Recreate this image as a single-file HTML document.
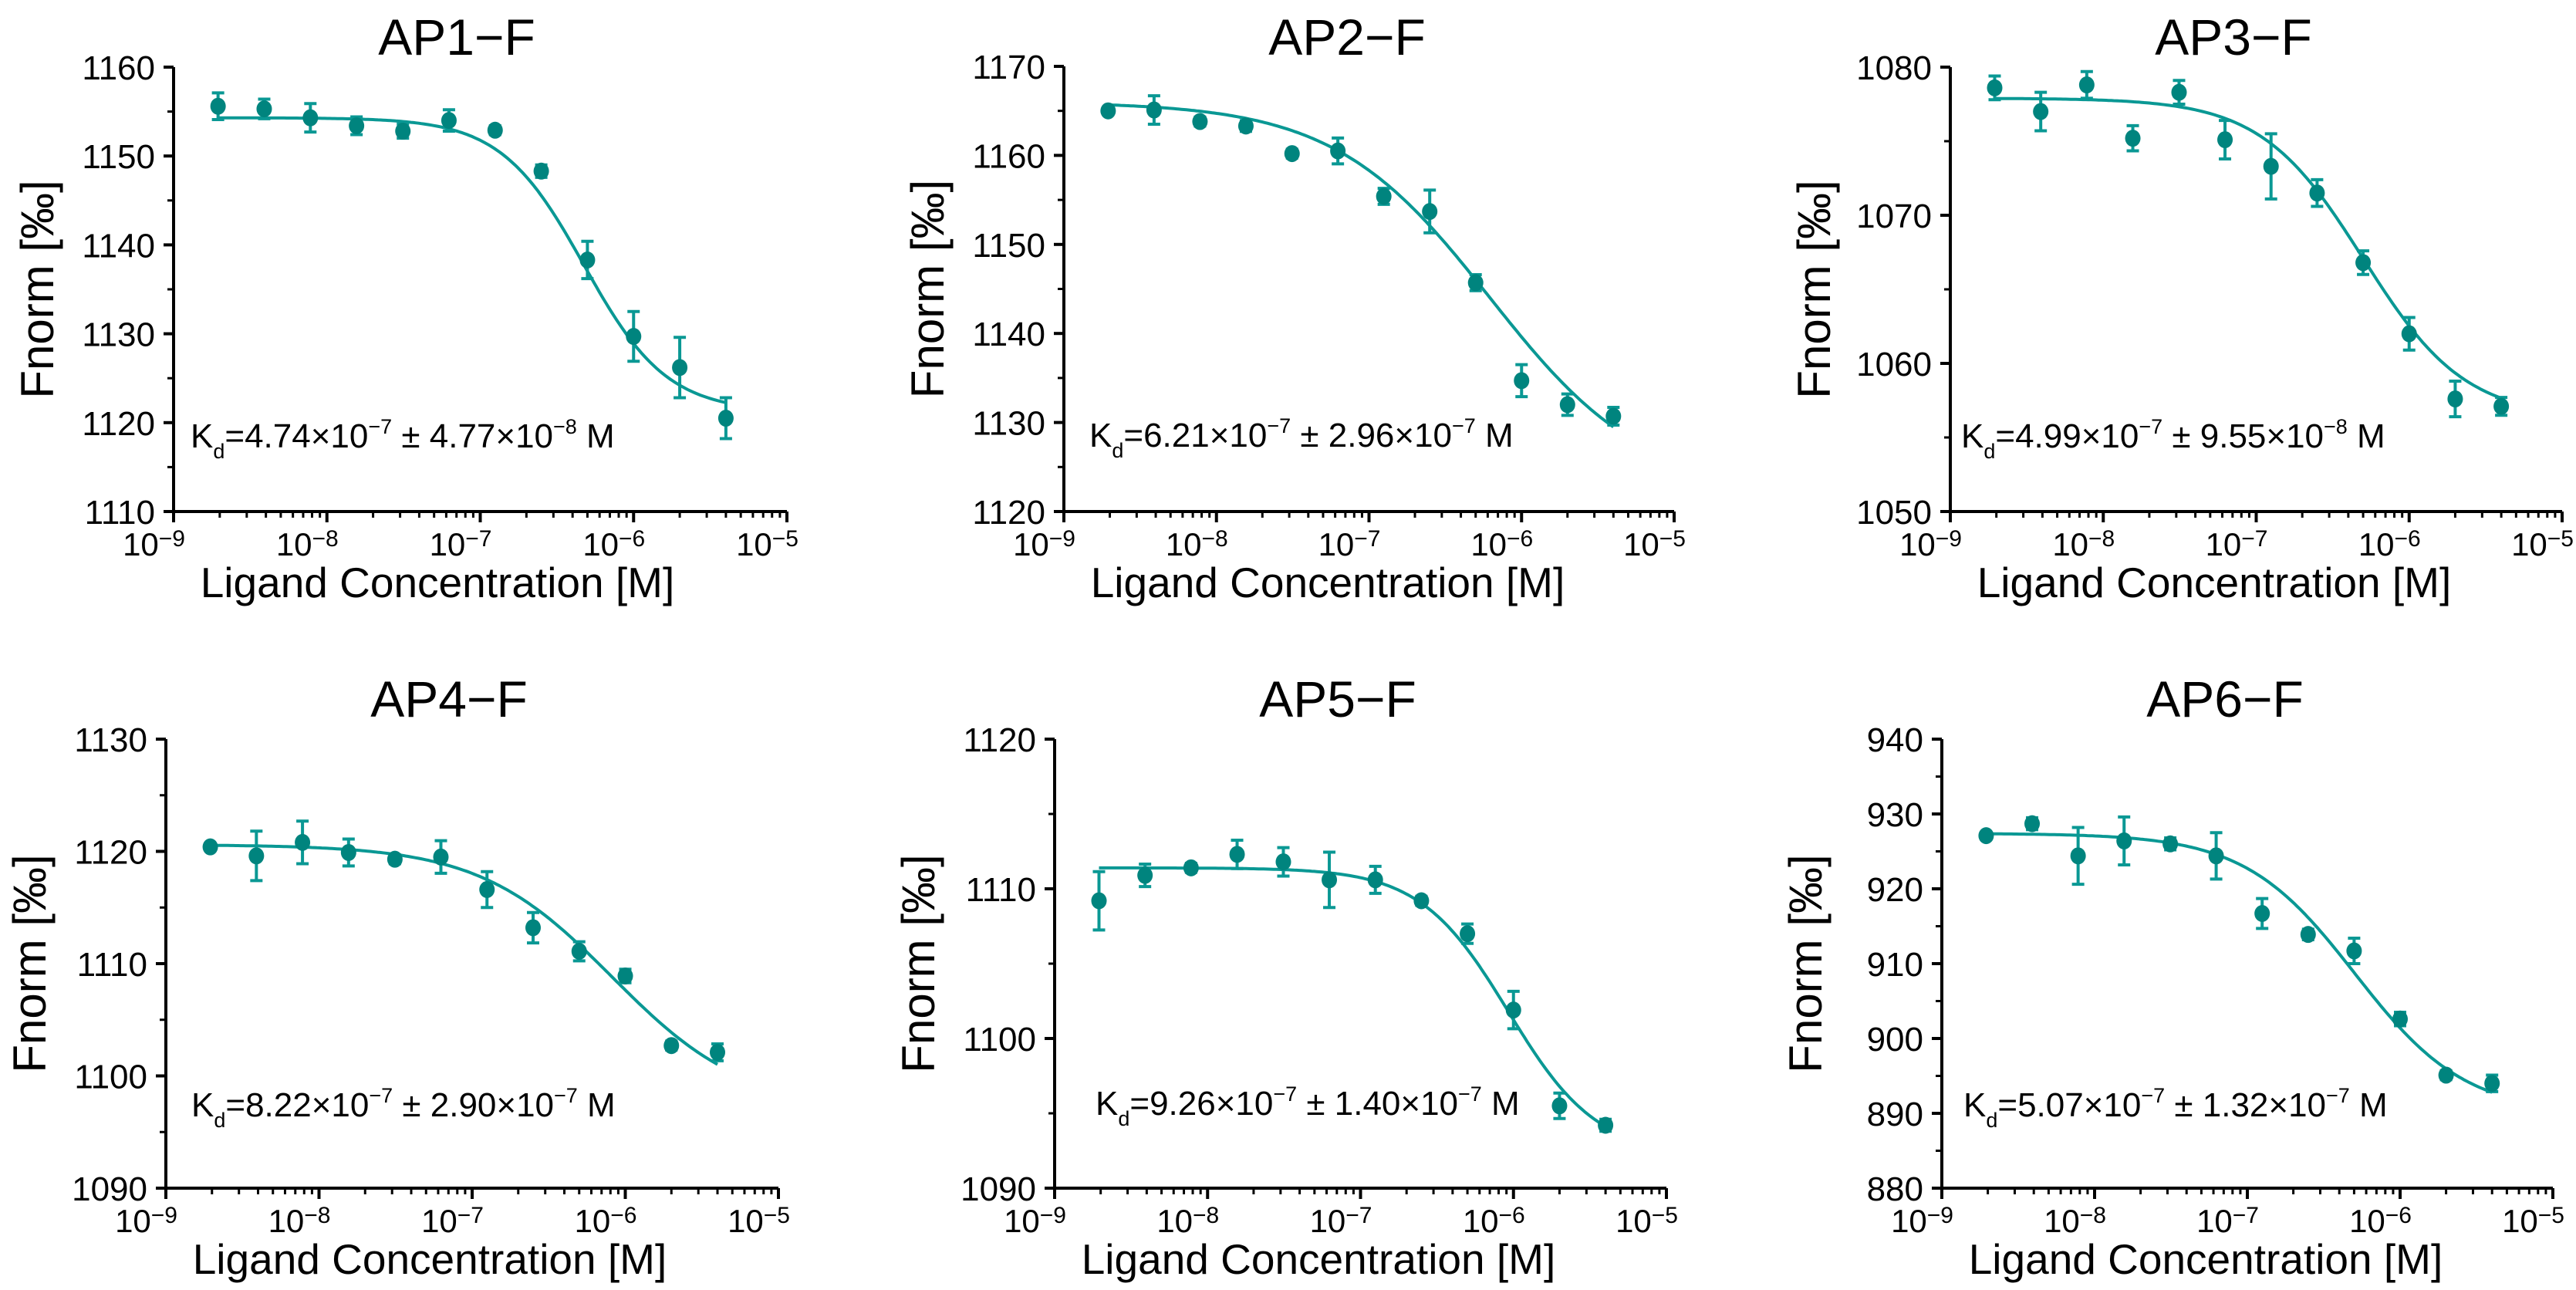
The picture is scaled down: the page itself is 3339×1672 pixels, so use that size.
<!DOCTYPE html>
<html><head><meta charset="utf-8"><style>
html,body{margin:0;padding:0;background:#fff}
svg{display:block;font-family:"Liberation Sans",Arial,sans-serif}
</style></head><body>
<svg id="fig" width="3339" height="1672" viewBox="0 0 3339 1672" xmlns="http://www.w3.org/2000/svg"></svg>
<script>
// ---- data ----
const concentrations = [1.95e-9,3.9e-9,7.8e-9,1.56e-8,3.13e-8,6.25e-8,1.25e-7,2.5e-7,5e-7,1e-6,2e-6,4e-6];
const xTickExponents = [-9,-8,-7,-6,-5];
const panelTitles = ["AP1\u2212F","AP2\u2212F","AP3\u2212F","AP4\u2212F","AP5\u2212F","AP6\u2212F"];
const yTicks1 = [1110,1120,1130,1140,1150,1160];
const yTicks2 = [1120,1130,1140,1150,1160,1170];
const yTicks3 = [1050,1060,1070,1080];
const yTicks4 = [1090,1100,1110,1120,1130];
const yTicks5 = [1090,1100,1110,1120];
const yTicks6 = [880,890,900,910,920,930,940];
const values1 = [1155.6,1155.3,1154.3,1153.4,1152.8,1154.0,1152.9,1148.3,1138.3,1129.7,1126.2,1120.5];
const errors1 = [1.5,1.1,1.6,1.0,0.8,1.2,0.5,0.7,2.1,2.8,3.4,2.3];
const values2 = [1165.0,1165.1,1163.8,1163.3,1160.2,1160.5,1155.4,1153.7,1145.7,1134.7,1132.0,1130.7];
const errors2 = [0.4,1.6,0.5,0.6,0.5,1.45,0.9,2.4,0.9,1.8,1.2,1.0];
const values3 = [1078.6,1077.0,1078.8,1075.2,1078.3,1075.1,1073.3,1071.5,1066.8,1062.0,1057.6,1057.1];
const errors3 = [0.8,1.3,0.9,0.85,0.8,1.3,2.2,0.9,0.8,1.1,1.2,0.6];
const values4 = [1120.4,1119.6,1120.8,1119.9,1119.3,1119.5,1116.6,1113.2,1111.1,1108.9,1102.7,1102.1];
const errors4 = [0.3,2.2,1.9,1.2,0.4,1.45,1.6,1.35,0.85,0.6,0.4,0.75];
const values5 = [1109.2,1110.9,1111.4,1112.3,1111.8,1110.6,1110.6,1109.2,1107.0,1101.9,1095.5,1094.2];
const errors5 = [1.95,0.75,0.3,0.95,0.95,1.85,0.9,0.3,0.65,1.25,0.85,0.4];
const values6 = [927.1,928.7,924.4,926.4,926.0,924.4,916.7,913.9,911.7,902.6,895.1,894.0];
const errors6 = [0.4,0.8,3.8,3.2,0.8,3.1,2.0,0.7,1.7,0.9,0.6,1.1];
// fit parameters: [top, bottom, Kd, hill]
const fit1 = [1154.3,1121.2,4.74e-7,1.6];
const fit2 = [1166.0,1122.0,6.21e-7,0.85];
const fit3 = [1077.9,1056.3,4.99e-7,1.3];
const fit4 = [1120.6,1097.0,8.22e-7,1.0];
const fit5 = [1111.4,1092.2,9.26e-7,1.5];
const fit6 = [927.4,889.9,5.07e-7,1.2];
const kdTexts = [["4.74","\u22127","4.77","\u22128"],["6.21","\u22127","2.96","\u22127"],["4.99","\u22127","9.55","\u22128"],["8.22","\u22127","2.90","\u22127"],["9.26","\u22127","1.40","\u22127"],["5.07","\u22127","1.32","\u22127"]];

// ---- layout ----
const layout = [
  {x0:225,x1:1020,y0:87,y1:663,kdx:22,kdy:493,ty:-16},
  {x0:1379,x1:2170,y0:86,y1:663,kdx:33,kdy:493,ty:-15},
  {x0:2528,x1:3321,y0:87,y1:663,kdx:14,kdy:493,ty:-16},
  {x0:215,x1:1009,y0:958,y1:1540,kdx:33,kdy:489,ty:-29},
  {x0:1367,x1:2160,y0:958,y1:1540,kdx:53,kdy:487,ty:-29},
  {x0:2517,x1:3309,y0:958,y1:1540,kdx:28,kdy:489,ty:-29}
];
const allTicks=[yTicks1,yTicks2,yTicks3,yTicks4,yTicks5,yTicks6];
const allVals=[values1,values2,values3,values4,values5,values6];
const allErrs=[errors1,errors2,errors3,errors4,errors5,errors6];
const allFits=[fit1,fit2,fit3,fit4,fit5,fit6];
const NS="http://www.w3.org/2000/svg";
const svg=document.getElementById('fig');
const LINE="#0a9894", MARK="#00847e";
function mk(tag,attrs,parent){const e=document.createElementNS(NS,tag);for(const k in attrs)e.setAttribute(k,attrs[k]);(parent||svg).appendChild(e);return e;}

for(let p=0;p<6;p++){
  const L=layout[p], ticks=allTicks[p], vals=allVals[p], errs=allErrs[p], fit=allFits[p];
  const ymin=ticks[0], ymax=ticks[ticks.length-1];
  const xs=c=>L.x0+(Math.log10(c)+9)/4*(L.x1-L.x0);
  const ys=v=>L.y1-(v-ymin)/(ymax-ymin)*(L.y1-L.y0);
  const g=mk('g',{});
  
  
  const t=mk('text',{x:L.x0+367,y:L.y0+L.ty,'font-size':66,'text-anchor':'middle',fill:'#000'},g);
  t.textContent=panelTitles[p];
  
  
  const ax=mk('path',{d:`M${L.x0},${L.y0} V${L.y1} H${L.x1}`,stroke:'#000','stroke-width':4,fill:'none'},g);
  
  
  const step=ticks[1]-ticks[0];
  for(let i=0;i<ticks.length;i++){
    const y=ys(ticks[i]);
    mk('line',{x1:L.x0-13,x2:L.x0,y1:y,y2:y,stroke:'#000','stroke-width':4},g);
    const lab=mk('text',{x:L.x0-24,y:y+16,'font-size':44,'text-anchor':'end',fill:'#000'},g);
    lab.textContent=ticks[i];
    
    
    if(i<ticks.length-1){const ym=ys(ticks[i]+step/2);mk('line',{x1:L.x0-8,x2:L.x0,y1:ym,y2:ym,stroke:'#000','stroke-width':3},g);}
  }
  for(let i=0;i<xTickExponents.length;i++){
    const e=xTickExponents[i], x=xs(Math.pow(10,e));
    mk('line',{x1:x,x2:x,y1:L.y1,y2:L.y1+14,stroke:'#000','stroke-width':4},g);
    const lab=mk('text',{x:x+15,y:L.y1+57,'font-size':42,'text-anchor':'end',fill:'#000'},g);
    
    
    const a=mk('tspan',{},lab);a.textContent='10';
    const b=mk('tspan',{dy:-12,'font-size':30},lab);b.textContent='\u2212'+Math.abs(e);
    if(i<xTickExponents.length-1){for(let m=2;m<=9;m++){const xm=xs(m*Math.pow(10,e));mk('line',{x1:xm,x2:xm,y1:L.y1,y2:L.y1+8,stroke:'#000','stroke-width':3},g);}}
  }
  const xt=mk('text',{x:L.x0+342,y:L.y1+111,'font-size':55,'text-anchor':'middle',fill:'#000'},g);
  xt.textContent='Ligand Concentration [M]';
  
  
  const cy=(L.y0+L.y1)/2, cx=L.x0-156;
  const yt=mk('text',{x:cx,y:cy,'font-size':60,'text-anchor':'middle',fill:'#000',transform:`rotate(-90 ${cx} ${cy})`},g);
  yt.textContent='Fnorm [\u2030]';
  
  
  let d='';
  const lo=Math.log10(concentrations[0]), hi=Math.log10(concentrations[concentrations.length-1]);
  for(let k=0;k<=200;k++){
    const c=Math.pow(10,lo+(hi-lo)*k/200);
    const r=Math.pow(c/fit[2],fit[3]);
    const v=fit[0]+(fit[1]-fit[0])*r/(1+r);
    d+=(k?'L':'M')+xs(c).toFixed(1)+','+ys(v).toFixed(1);
  }
  const fc=mk('path',{d:d,stroke:LINE,'stroke-width':4,fill:'none'},g);
  
  
  for(let i=0;i<vals.length;i++){
    const x=xs(concentrations[i]), y=ys(vals[i]), yt1=ys(vals[i]+errs[i]), yb=ys(vals[i]-errs[i]);
    const eb=mk('path',{d:`M${x},${yt1}V${yb}M${x-8},${yt1}H${x+8}M${x-8},${yb}H${x+8}`,stroke:LINE,'stroke-width':4,fill:'none'},g);
    
    
    const pt=mk('ellipse',{cx:x,cy:y,rx:10,ry:11,fill:MARK},g);
    
    
  }
  const kd=kdTexts[p];
  const kt=mk('text',{x:L.x0+L.kdx,y:L.y0+L.kdy,'font-size':44,fill:'#000'},g);
  
  
  const parts=[['K',0,44],['d',14,27],['=' + kd[0]+'\u00d710',-14,44],[kd[1],-18,27],[' \u00b1 '+kd[2]+'\u00d710',18,44],[kd[3],-18,27],[' M',18,44]];
  for(const q of parts){const s=mk('tspan',{dy:q[1],'font-size':q[2]},kt);s.textContent=q[0];}
}
</script>
</body></html>
